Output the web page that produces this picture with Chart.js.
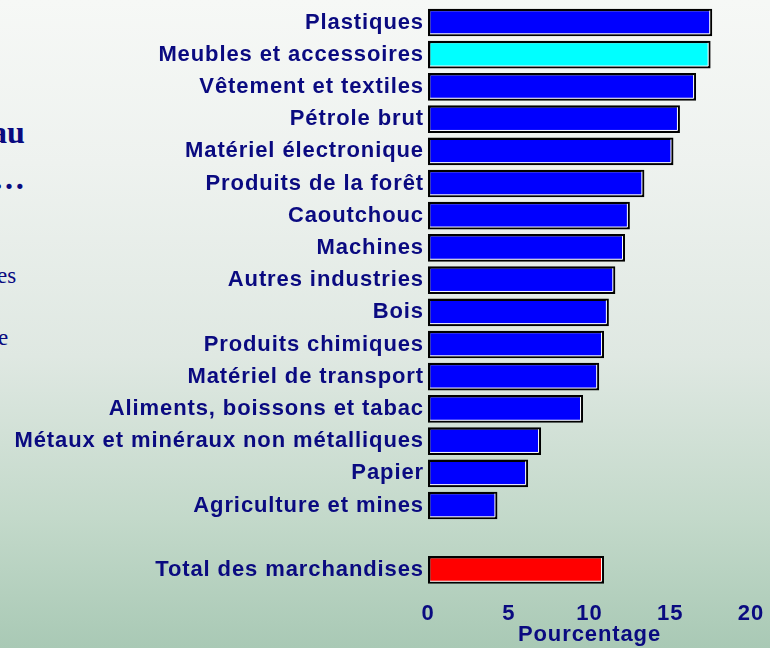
<!DOCTYPE html>
<html>
<head>
<meta charset="utf-8">
<script src="https://cdn.jsdelivr.net/npm/chart.js@4/dist/chart.umd.min.js"></script>
<style>
  html, body { margin: 0; padding: 0; }
  body {
    width: 770px; height: 648px; overflow: hidden; position: relative;
    background: linear-gradient(to bottom, #f6f8f6 0%, #eef2ef 25%, #dfe8e2 55%, #c3d9ca 80%, #a9c9b5 100%);
  }
  #wrap { position: absolute; left: 0; top: 0; width: 770px; height: 648px; }
  .frag { position: absolute; color: #0a0a80; font-family: "Liberation Serif", "Times New Roman", serif; white-space: nowrap; }
</style>
</head>
<body>
<div class="frag" style="left:-9px; top:114px; font-size:32px; font-weight:bold;">au</div>
<div class="frag" style="left:-7px; top:160px; font-size:32px; font-weight:bold;">…</div>
<div class="frag" style="left:-3px; top:263px; font-size:23px;">es</div>
<div class="frag" style="left:-2px; top:325px; font-size:23px;">e</div>
<div id="wrap"><canvas id="c" width="770" height="648"></canvas></div>
<script>
const categories = [
  "Plastiques",
  "Meubles et accessoires",
  "Vêtement et textiles",
  "Pétrole brut",
  "Matériel électronique",
  "Produits de la forêt",
  "Caoutchouc",
  "Machines",
  "Autres industries",
  "Bois",
  "Produits chimiques",
  "Matériel de transport",
  "Aliments, boissons et tabac",
  "Métaux et minéraux non métalliques",
  "Papier",
  "Agriculture et mines",
  "",
  "Total des marchandises"
];
const values = [17.6, 17.5, 16.6, 15.6, 15.2, 13.4, 12.5, 12.2, 11.6, 11.2, 10.9, 10.6, 9.6, 7.0, 6.2, 4.3, null, 10.9];
const barColors = ["#0000ff", "#00ffff", "#0000ff", "#0000ff", "#0000ff", "#0000ff", "#0000ff", "#0000ff", "#0000ff", "#0000ff", "#0000ff", "#0000ff", "#0000ff", "#0000ff", "#0000ff", "#0000ff", "#0000ff", "#ff0000"];
const xTicks = [0, 5, 10, 15, 20];
const xTitle = "Pourcentage";

const navy = "#0a0a80";
const fontFam = "'Liberation Sans', Arial, sans-serif";

const spacing = {
  id: 'spacing',
  beforeUpdate(chart) { chart.ctx.letterSpacing = '0.9px'; },
  beforeLayout(chart) { chart.ctx.letterSpacing = '0.9px'; },
  beforeDraw(chart) { chart.ctx.letterSpacing = '0.9px'; }
};

const highlight = {
  id: 'highlight',
  afterDatasetsDraw(chart) {
    const ctx = chart.ctx;
    const meta = chart.getDatasetMeta(0);
    ctx.save();
    meta.data.forEach((bar, i) => {
      if (values[i] === null) return;
      const p = bar.getProps(['x', 'y', 'base', 'height'], true);
      const top = p.y - p.height / 2, bot = p.y + p.height / 2;
      ctx.strokeStyle = '#ffffff';
      ctx.lineWidth = 1;
      ctx.beginPath();
      ctx.moveTo(p.base + 2, bot - 2.5);
      ctx.lineTo(p.x - 2.5, bot - 2.5);
      ctx.lineTo(p.x - 2.5, top + 2);
      ctx.stroke();
    });
    ctx.restore();
  }
};

new Chart(document.getElementById('c'), {
  type: 'bar',
  data: {
    labels: categories,
    datasets: [{
      data: values,
      backgroundColor: barColors,
      borderColor: '#000000',
      borderWidth: 2.5,
      borderSkipped: false,
      barPercentage: 0.86,
      categoryPercentage: 1.0
    }]
  },
  options: {
    indexAxis: 'y',
    responsive: false,
    animation: false,
    layout: { padding: { left: 0, right: 19, top: 6.4, bottom: 0 } },
    plugins: { legend: { display: false }, tooltip: { enabled: false } },
    scales: {
      x: {
        min: 0, max: 20,
        afterBuildTicks(scale) { scale.ticks = xTicks.map(v => ({ value: v })); },
        afterFit(scale) { scale.height = 62; scale.paddingLeft = 0; scale.paddingRight = 0; },
        grid: { display: false, drawTicks: false },
        border: { display: false },
        ticks: { color: navy, padding: 15, font: { family: fontFam, size: 22, weight: 'bold' } },
        title: {
          display: true, text: xTitle, color: navy,
          padding: { top: 0, bottom: 0 },
          font: { family: fontFam, size: 22, weight: 'bold' }
        }
      },
      y: {
        afterFit(scale) { scale.width = 428; scale.paddingTop = 0; scale.paddingBottom = 0; },
        grid: { display: false, drawTicks: false },
        border: { display: false },
        ticks: { color: navy, padding: 4, autoSkip: false, font: { family: fontFam, size: 22, weight: 'bold' } }
      }
    }
  },
  plugins: [spacing, highlight]
});
</script>
</body>
</html>
